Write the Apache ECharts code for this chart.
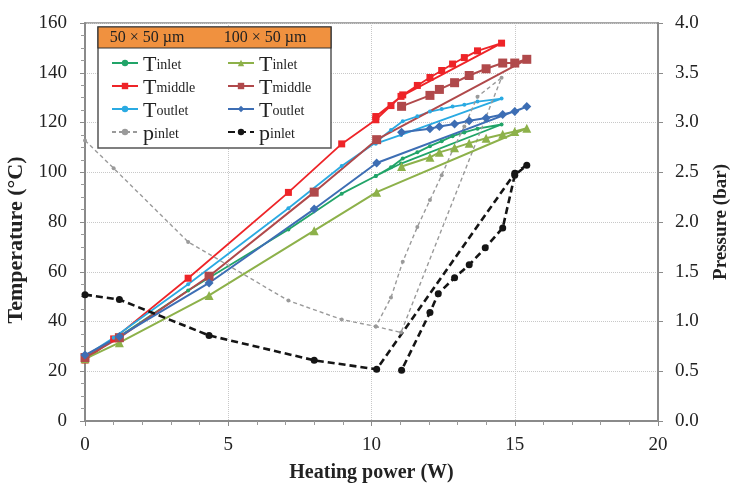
<!DOCTYPE html>
<html>
<head>
    <meta charset="utf-8">
    <title>Heating power chart</title>
    <script src="https://cdn.jsdelivr.net/npm/echarts@6/dist/echarts.min.js"></script>
    <style>
        body { margin: 0; background: #fff; }
        #chart { width: 731px; height: 483px; }
    </style>
</head>
<body>
    <div id="chart"></div>
    <script>
        // 50 x 50 um channel: power steps (increasing, then back down)
        var power50 = [0, 1.0, 3.6, 7.1, 8.96, 10.15, 10.68, 11.09, 11.6, 12.04, 12.45, 12.83, 13.24, 13.7, 14.54, 11.03, 10.15];
        var tInlet50 = [25.5, 32.5, 52.5, 77, 91.4, 98.5, 102, 105.5, 108, 110.5, 112.5, 114.5, 116, 117.5, 119.2, 103.5, 98.5];
        var tMiddle50 = [24.5, 33, 57.4, 91.9, 111.4, 121.1, 126.8, 131.1, 134.9, 138.1, 140.9, 143.5, 146.1, 148.8, 151.9, 130.5, 122.4];
        var tOutlet50 = [26, 33.5, 55, 85.5, 102.5, 112, 117, 120.5, 122.5, 124.4, 125.4, 126.4, 127.1, 128.4, 129.6, 115, 111.5];
        var pInlet50 = [2.82, 2.54, 1.8, 1.21, 1.02, 0.95, 1.24, 1.6, 1.95, 2.22, 2.47, 2.72, 2.96, 3.26, 3.45, 0.89, 0.95];

        // 100 x 50 um channel
        var power100 = [0, 1.2, 4.33, 8.0, 10.18, 15.42, 15.0, 14.58, 14.0, 13.41, 12.9, 12.37, 12.04, 11.05];
        var tInlet100 = [25, 31.5, 50.5, 76.5, 92, 117.7, 116.4, 115.3, 113.7, 111.7, 109.8, 108, 106, 102.3];
        var tMiddle100 = [25.5, 33.5, 58.2, 92, 113.1, 145.4, 143.9, 143.9, 141.6, 138.9, 136, 133.3, 130.9, 126.5];
        var tOutlet100 = [26.5, 34, 55.5, 85.2, 103.7, 126.4, 124.4, 123.2, 121.8, 120.7, 119.4, 118.4, 117.5, 116.1];
        var powerP100 = [0, 1.2, 4.33, 8.0, 10.18, 15.0, 15.42, 15.0, 14.58, 13.97, 13.41, 12.9, 12.33, 12.04, 11.05];
        var pInlet100 = [1.27, 1.22, 0.86, 0.61, 0.52, 2.49, 2.57, 2.47, 1.94, 1.74, 1.57, 1.44, 1.28, 1.09, 0.51];

        var legendText = {
            'Tin50': ['T', 'inlet'], 'Tmid50': ['T', 'middle'], 'Tout50': ['T', 'outlet'], 'p50': ['p', 'inlet'],
            'Tin100': ['T', 'inlet'], 'Tmid100': ['T', 'middle'], 'Tout100': ['T', 'outlet'], 'p100': ['p', 'inlet']
        };

        var serif = '"Liberation Serif", "DejaVu Serif", serif';

        function pairs(xs, ys) {
            return xs.map(function (x, i) { return [x, ys[i]]; });
        }

        function line(name, xs, ys, color, symbol, size, width, dash, axis) {
            return {
                name: name,
                type: 'line',
                yAxisIndex: axis || 0,
                data: pairs(xs, ys),
                symbol: symbol,
                symbolSize: size,
                showAllSymbol: true,
                lineStyle: { color: color, width: width, type: dash || 'solid' },
                itemStyle: { color: color },
                z: 2
            };
        }

        var chart = echarts.init(document.getElementById('chart'));

        var legendBase = {
            orient: 'vertical',
            top: 44,
            itemWidth: 26,
            itemHeight: 8,
            itemGap: -4,
            z: 6,
            formatter: function (name) {
                var t = legendText[name];
                return '{m|' + t[0] + '}{s|' + t[1] + '}';
            },
            textStyle: {
                fontFamily: serif,
                color: '#222',
                rich: {
                    m: { fontFamily: serif, fontSize: 22, lineHeight: 18, verticalAlign: 'top', color: '#222' },
                    s: { fontFamily: serif, fontSize: 14, lineHeight: 14, padding: [9, 0, 0, 0], verticalAlign: 'bottom', color: '#222' }
                }
            }
        };

        var option = {
            animation: false,
            backgroundColor: '#fff',
            grid: {
                left: 85, right: 73, top: 23, bottom: 62,
                outerBoundsMode: 'none',
                show: true, borderColor: '#8a8a8a', borderWidth: 1.5, backgroundColor: 'transparent'
            },
            legend: [
                Object.assign({}, legendBase, { left: 106, data: ['Tin50', 'Tmid50', 'Tout50', 'p50'] }),
                Object.assign({}, legendBase, { left: 222, data: ['Tin100', 'Tmid100', 'Tout100', 'p100'] })
            ],
            graphic: [
                { type: 'rect', z: 5, shape: { x: 98, y: 27, width: 233, height: 121 }, style: { fill: '#fff', stroke: '#555', lineWidth: 1.5 } },
                { type: 'rect', z: 5, shape: { x: 98, y: 27, width: 233, height: 21 }, style: { fill: '#f0913f', stroke: '#333', lineWidth: 1.2 } },
                { type: 'text', z: 6, x: 147, y: 38, style: { text: '50 × 50 µm', fontFamily: serif, fontSize: 16, fill: '#222', align: 'center', verticalAlign: 'middle' } },
                { type: 'text', z: 6, x: 265, y: 38, style: { text: '100 × 50 µm', fontFamily: serif, fontSize: 16, fill: '#222', align: 'center', verticalAlign: 'middle' } }
            ],
            xAxis: {
                type: 'value',
                min: 0, max: 20, interval: 5,
                name: 'Heating power (W)',
                nameLocation: 'middle',
                nameGap: 42,
                nameTextStyle: { fontFamily: serif, fontSize: 20, fontWeight: 'bold', color: '#222' },
                axisLine: { lineStyle: { color: '#8a8a8a', width: 2 } },
                axisTick: { show: true, length: 5, lineStyle: { color: '#8a8a8a' } },
                minorTick: { show: true, splitNumber: 5, length: 4, lineStyle: { color: '#9a9a9a' } },
                axisLabel: { fontFamily: serif, fontSize: 19, color: '#222', margin: 15 },
                splitLine: { show: true, lineStyle: { color: '#c8c8c8', type: 'dotted', width: 1 } }
            },
            yAxis: [
                {
                    type: 'value',
                    min: 0, max: 160, interval: 20,
                    name: 'Temperature (°C)',
                    nameLocation: 'middle',
                    nameRotate: 90,
                    nameGap: 45,
                    nameTextStyle: { fontFamily: serif, fontSize: 22, fontWeight: 'bold', color: '#222', padding: [0, 36, 0, 0] },
                    axisLine: { show: true, lineStyle: { color: '#8a8a8a', width: 2 } },
                    axisTick: { show: true, length: 5, lineStyle: { color: '#8a8a8a' } },
                    minorTick: { show: true, splitNumber: 4, length: 4, lineStyle: { color: '#9a9a9a' } },
                    axisLabel: { fontFamily: serif, fontSize: 19, color: '#222', margin: 18 },
                    splitLine: { show: true, lineStyle: { color: '#c8c8c8', type: 'dotted', width: 1 } }
                },
                {
                    type: 'value',
                    min: 0, max: 4, interval: 0.5,
                    name: 'Pressure (bar)',
                    nameLocation: 'middle',
                    nameRotate: 90,
                    nameGap: 54,
                    nameTextStyle: { fontFamily: serif, fontSize: 19, fontWeight: 'bold', color: '#222' },
                    axisLine: { show: true, lineStyle: { color: '#8a8a8a', width: 2 } },
                    axisTick: { show: true, length: 5, lineStyle: { color: '#8a8a8a' } },
                    axisLabel: { fontFamily: serif, fontSize: 19, color: '#222', margin: 17, formatter: function (v) { return v.toFixed(1); } },
                    splitLine: { show: false }
                }
            ],
            series: [
                line('Tin50', power50, tInlet50, '#21a468', 'circle', 4, 1.8),
                line('Tmid50', power50, tMiddle50, '#ee2428', 'rect', 7, 1.8),
                line('Tout50', power50, tOutlet50, '#2aaae2', 'circle', 4, 1.8),
                line('p50', power50, pInlet50, '#9a9a9a', 'circle', 4, 1.4, [4, 3], 1),
                line('Tin100', power100, tInlet100, '#8db14a', 'triangle', 9, 2),
                line('Tmid100', power100, tMiddle100, '#b0494b', 'rect', 9, 2),
                line('Tout100', power100, tOutlet100, '#3d6eb4', 'diamond', 9, 2),
                line('p100', powerP100, pInlet100, '#151515', 'circle', 7, 2.6, [7, 4], 1)
            ]
        };

        chart.setOption(option);
    </script>
</body>
</html>
